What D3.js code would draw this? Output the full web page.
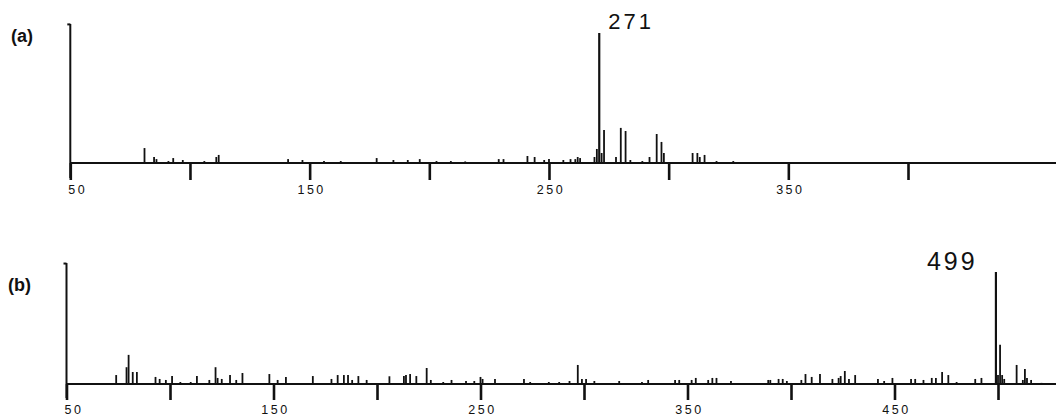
<!DOCTYPE html>
<html>
<head>
<meta charset="utf-8">
<script src="https://cdn.jsdelivr.net/npm/d3@7"></script>
<style>
  body { margin: 0; background: #fff; }
  svg { display: block; }
</style>
</head>
<body>
<svg id="main_svg" width="1056" height="418"></svg>
<script>
// spectrum (a): m/z and relative intensity (%)
const massA = [81, 85, 86, 91, 93, 97, 106, 111, 112, 141, 147, 156, 163, 178, 185, 191, 196, 203, 209, 215,
               229, 231, 241, 244, 248, 250, 256, 259, 261, 262, 263, 269, 270, 271, 272, 273, 278, 280, 282,
               284, 289, 292, 295, 297, 298, 310, 312, 313, 315, 320, 327];
const intA  = [11.5, 4.6, 3, 1.5, 3.8, 2.3, 1.5, 4.6, 6.2, 3, 2.3, 1.5, 1.5, 3.8, 2.3, 2.3, 3, 1.5, 1.5, 1.2,
               3, 3, 5.4, 4.6, 2.3, 3, 2.3, 3, 3, 4.6, 3.8, 4.6, 10.8, 100, 7.7, 25.4, 4.6, 27, 24.6,
               2.3, 1.5, 4.6, 22.3, 16.2, 7.7, 7.7, 7.7, 4.6, 6.2, 1.5, 1.5];

// spectrum (b)
const massB = [74, 79, 80, 82, 84, 93, 95, 98, 101, 105, 110, 113, 119, 122, 123, 125, 129, 132, 135, 148,
               152, 156, 169, 178, 181, 184, 186, 188, 191, 195, 206, 213, 214, 216, 219, 224, 226, 232, 236,
               243, 247, 250, 251, 257, 271, 274, 283, 288, 293, 297, 299, 301, 305, 317, 328, 331, 344, 346,
               352, 354, 360, 362, 364, 371, 389, 390, 394, 396, 398, 405, 407, 410, 414, 420, 423, 424, 426,
               428, 431, 442, 445, 449, 458, 460, 464, 468, 470, 473, 476, 480, 489, 492, 499, 500, 501, 502,
               503, 509, 512, 513, 514, 516, 521];
const intB  = [8, 15, 26, 10.7, 10.7, 6.3, 4.5, 3.6, 7.1, 1.8, 1.8, 7.1, 3.6, 15, 5.4, 4.5, 8, 3.6, 9.8, 8.9,
               3.6, 6.3, 7.1, 4.5, 8, 8, 8, 3.6, 7.1, 3.6, 6.9, 7.1, 8, 8.9, 7.1, 14.3, 3.6, 1.8, 3.6,
               2.7, 2.7, 6.3, 4.5, 4.5, 4.5, 1.8, 1.8, 1.8, 2.7, 17, 4.5, 4.5, 2.7, 2.7, 1.8, 3.6, 3.6, 3.6,
               3.6, 5.4, 3.6, 5.4, 5.4, 2.7, 3.6, 3.6, 4.5, 4.5, 2.7, 3.6, 8.9, 6.3, 8.9, 4.5, 5.4, 7.1, 11.6,
               4.5, 8, 4.5, 2.7, 5.4, 4.5, 4.5, 3.6, 5.4, 5.4, 10.7, 8, 1.8, 4.5, 5.4, 100, 8, 35, 8,
               4.5, 17, 3.6, 13.4, 5.4, 3.6, 1];

const ticksA = [50, 100, 150, 200, 250, 300, 350, 400];
const labelsA = [50, 150, 250, 350];
const ticksB = [50, 100, 150, 200, 250, 300, 350, 400, 450, 500];
const labelsB = [50, 150, 250, 350, 450];

const svg = d3.select("#main_svg");
const width = 1056;
const font = "'Liberation Sans', Arial, sans-serif";

function drawPanel(p) {
    let g = svg.append("g");
    let x = d3.scaleLinear().domain(p.xDomain).range(p.xRange);
    let y = d3.scaleLinear().domain([0, 100]).range([p.base, p.top100]);
    let x0 = x(p.xDomain[0]);

    // y axis (bracket at top, runs below the baseline)
    g.append("g")
        .attr("transform", "translate(" + x0 + ",0)")
        .call(d3.axisLeft(y).tickValues([p.yMax]).tickSize(3).tickFormat(""))
        .call(a => a.select(".domain").remove())
        .call(a => a.selectAll("line").attr("stroke", "#111").attr("stroke-width", 2));
    g.append("line")
        .attr("x1", x0).attr("x2", x0)
        .attr("y1", y(p.yMax)).attr("y2", p.base + p.tickLen - 2)
        .attr("stroke", "#111").attr("stroke-width", 2);

    // baseline runs to the right edge
    g.append("line")
        .attr("x1", x0).attr("x2", width)
        .attr("y1", p.base).attr("y2", p.base)
        .attr("stroke", "#111").attr("stroke-width", 2.2);

    // x ticks and labels
    let ax = g.append("g")
        .attr("transform", "translate(0," + p.base + ")")
        .call(d3.axisBottom(x).tickValues(p.ticks).tickSize(p.tickLen).tickPadding(5)
            .tickFormat(d => p.labels.includes(d) ? String(d) : ""));
    ax.select(".domain").remove();
    ax.selectAll("line").attr("stroke", "#111").attr("stroke-width", 2.6);
    ax.selectAll("text")
        .attr("fill", "#111")
        .style("font-family", font)
        .style("font-size", "12.5px")
        .style("letter-spacing", "2.5px")
        .attr("dx", d => d === p.xDomain[0] ? 7 : 1.5);

    // peaks
    g.selectAll("line.peak")
        .data(p.mass.map((m, i) => ({ m: m, v: p.inten[i] })))
        .enter().append("line")
        .attr("class", "peak")
        .attr("x1", d => x(d.m)).attr("x2", d => x(d.m))
        .attr("y1", p.base).attr("y2", d => y(d.v))
        .attr("stroke", "#111")
        .attr("stroke-width", d => d.v > 50 ? 2.2 : 1.8);

    // base peak label
    g.append("text")
        .attr("x", x(p.baseMass) + p.labelDx)
        .attr("y", p.labelY)
        .text(p.baseMass)
        .attr("fill", "#111")
        .style("font-family", font)
        .style("font-size", p.labelSize + "px")
        .style("letter-spacing", "3px");

    // panel letter
    g.append("text")
        .attr("x", p.tagX).attr("y", p.tagY)
        .text(p.tag)
        .attr("fill", "#111")
        .style("font-family", font)
        .style("font-weight", "bold")
        .style("font-size", "18px");
}

drawPanel({
    mass: massA, inten: intA, ticks: ticksA, labels: labelsA,
    xDomain: [50, 400], xRange: [70.3, 908],
    base: 163, top100: 33, yMax: 107, tickLen: 17,
    baseMass: 271, labelDx: 9, labelY: 29, labelSize: 22,
    tag: "(a)", tagX: 11, tagY: 42
});

drawPanel({
    mass: massB, inten: intB, ticks: ticksB, labels: labelsB,
    xDomain: [50, 500], xRange: [66.5, 998],
    base: 384, top100: 272, yMax: 108, tickLen: 16,
    baseMass: 499, labelDx: -69, labelY: 270, labelSize: 25,
    tag: "(b)", tagX: 8, tagY: 291
});
</script>
</body>
</html>
